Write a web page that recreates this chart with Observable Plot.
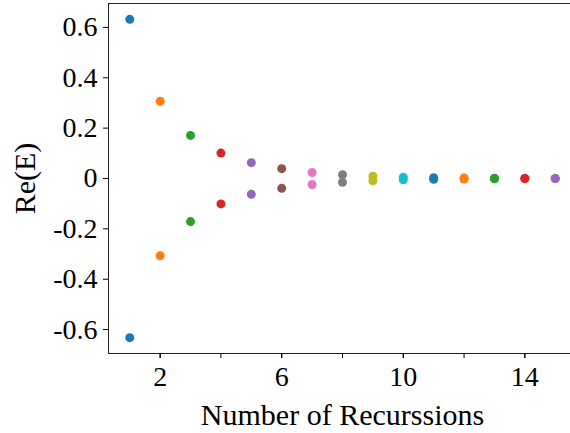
<!DOCTYPE html>
<html><head><meta charset="utf-8">
<script src="https://cdn.jsdelivr.net/npm/d3@7"></script>
<script src="https://cdn.jsdelivr.net/npm/@observablehq/plot@0.6"></script>
<style>html,body{margin:0;padding:0;background:#fff;overflow:hidden}</style>
</head><body><div id="chart"></div>
<script>
const recursions = [1, 2, 3, 4, 5, 6, 7, 8, 9, 10, 11, 12, 13, 14, 15];
const upperRe = [0.632, 0.307, 0.171, 0.101, 0.063, 0.039, 0.024, 0.015, 0.009, 0.005, 0.003, 0.002, 0.001, 0.0007, 0.0004];
const lowerRe = [-0.632, -0.307, -0.171, -0.101, -0.063, -0.039, -0.024, -0.015, -0.009, -0.005, -0.003, -0.002, -0.001, -0.0007, -0.0004];
const palette = ["#1f77b4", "#ff7f0e", "#2ca02c", "#d62728", "#9467bd", "#8c564b", "#e377c2", "#7f7f7f", "#bcbd22", "#17becf"];
const xTicksAll = [2, 4, 6, 8, 10, 12, 14];
const xTickLabels = [2, 6, 10, 14];
const yTicks = [-0.6, -0.4, -0.2, 0, 0.2, 0.4, 0.6];
const xTitle = "Number of Recurssions";
const yTitle = "Re(E)";

const points = recursions.flatMap((n, i) => [
  {n, re: upperRe[i], c: palette[i % palette.length]},
  {n, re: lowerRe[i], c: palette[i % palette.length]}
]);

const chart = Plot.plot({
  width: 570, height: 433,
  marginLeft: 108, marginRight: -6, marginTop: 3, marginBottom: 80,
  style: {fontFamily: "'Liberation Serif', serif", fontSize: "28px", color: "#000", background: "#fff"},
  x: {domain: [0.3, 15.7]},
  y: {domain: [-0.695, 0.695]},
  marks: [
    Plot.frame({stroke: "#222", strokeWidth: 1}),
    Plot.axisX({ticks: xTicksAll, tickFormat: () => "", tickSize: 5, label: null}),
    Plot.axisX({ticks: xTickLabels, tickFormat: d => String(d), tickSize: 5, tickPadding: 8, fontSize: 28, label: null}),
    Plot.axisX({ticks: [], label: xTitle, labelAnchor: "center", labelOffset: 71, labelArrow: "none", fontSize: 30}),
    Plot.axisY({ticks: yTicks, tickFormat: d => String(d), tickSize: 5, tickPadding: 6, fontSize: 28, label: null}),
    Plot.axisY({ticks: [], label: yTitle, labelAnchor: "center", labelOffset: 95, labelArrow: "none", fontSize: 30}),
    Plot.dot(points, {x: "n", y: "re", fill: "c", r: 4.5})
  ]
});
document.getElementById("chart").append(chart);
</script>
</body></html>
